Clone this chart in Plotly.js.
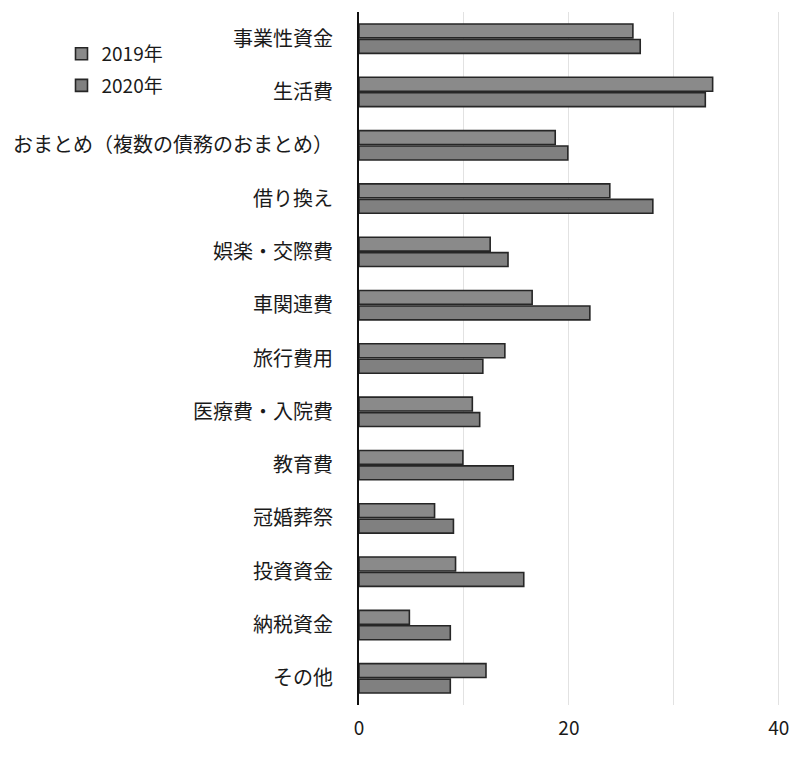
<!DOCTYPE html>
<html>
<head>
<meta charset="utf-8">
<script src="https://cdn.plot.ly/plotly-3.0.1.min.js"></script>
<style>
  html, body { margin: 0; padding: 0; background: #fff; }
  #chart { width: 800px; height: 757px; }
</style>
</head>
<body>
<div id="chart"></div>
<script>
// Categories top to bottom
const categories = [
    '事業性資金', '生活費', 'おまとめ（複数の債務のおまとめ）', '借り換え',
    '娯楽・交際費', '車関連費', '旅行費用', '医療費・入院費', '教育費',
    '冠婚葬祭', '投資資金', '納税資金', 'その他'
];

// Values
const values2019 = [26.1, 33.7, 18.7, 23.9, 12.5, 16.5, 13.9, 10.8, 9.9, 7.2, 9.2, 4.8, 12.1];
const values2020 = [26.8, 33.0, 19.9, 28.0, 14.2, 22.0, 11.8, 11.5, 14.7, 9.0, 15.7, 8.7, 8.7];

const xTicks = [0, 20, 40];

const barLine = {color: '#262626', width: 1.6};

const trace2019 = {
    type: 'bar',
    orientation: 'h',
    name: '2019年',
    legendgroup: 'y2019',
    y: categories,
    x: values2019,
    marker: {color: '#8a8a8a', line: barLine},
    hoverinfo: 'x+y'
};

const trace2020 = {
    type: 'bar',
    orientation: 'h',
    name: '2020年',
    legendgroup: 'y2020',
    y: categories,
    x: values2020,
    marker: {color: '#808080', line: barLine},
    hoverinfo: 'x+y'
};

const layout = {
    width: 800,
    height: 757,
    margin: {l: 359, r: 16, t: 12, b: 52},
    paper_bgcolor: '#ffffff',
    plot_bgcolor: '#ffffff',
    font: {family: '"Noto Sans CJK JP", "Noto Sans", sans-serif', color: '#1a1a1a', size: 20},
    barmode: 'group',
    bargap: 0.42,
    bargroupgap: 0.1,
    showlegend: true,
    legend: {
        x: -0.70,
        y: 0.967,
        xanchor: 'left',
        yanchor: 'top',
        traceorder: 'grouped',
        tracegroupgap: 4,
        font: {size: 19, color: '#1a1a1a'},
        bgcolor: 'rgba(0,0,0,0)'
    },
    xaxis: {
        range: [0, 40.5],
        tickvals: xTicks,
        ticktext: xTicks.map(String),
        showgrid: true,
        gridcolor: '#e2e2e2',
        gridwidth: 1,
        zeroline: false,
        showline: false,
        ticks: '',
        ticklabelstandoff: 10,
        tickfont: {size: 19, color: '#1a1a1a'},
        fixedrange: true,
        // gridlines at 10 and 30 without labels
        minor: {tickvals: [10, 30], showgrid: true, gridcolor: '#e2e2e2', ticks: ''}
    },
    yaxis: {
        type: 'category',
        autorange: 'reversed',
        showline: true,
        linecolor: '#111',
        linewidth: 2,
        showgrid: false,
        ticks: '',
        ticklabelstandoff: 20,
        tickfont: {size: 20, color: '#1a1a1a'},
        fixedrange: true
    }
};

Plotly.newPlot('chart', [trace2019, trace2020], layout, {displayModeBar: false, staticPlot: true});
</script>
</body>
</html>
